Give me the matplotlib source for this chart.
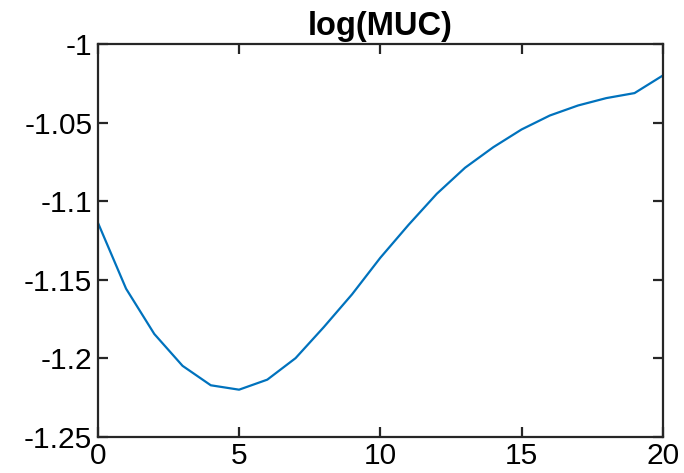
import matplotlib
matplotlib.use('Agg')
import matplotlib.pyplot as plt

plt.rcParams['font.family'] = ['Liberation Sans', 'DejaVu Sans']

x = list(range(21))
muc = [-1.1135, -1.1557, -1.1846, -1.2049, -1.2173, -1.2201, -1.2137, -1.2000,
       -1.1802, -1.1593, -1.1360, -1.1150, -1.0952, -1.0786, -1.0655, -1.0542,
       -1.0453, -1.0389, -1.0342, -1.0310, -1.0198]

fig = plt.figure(figsize=(6.84, 4.73), dpi=100)
ax = fig.add_axes([0.143, 0.077, 0.826, 0.829])

ax.plot(x, muc, color='#0072BD', lw=1.6)

ax.set_xlim(0, 20)
ax.set_ylim(-1.25, -1)
ax.set_xticks([0, 5, 10, 15, 20])
ax.set_yticks([-1.25, -1.2, -1.15, -1.1, -1.05, -1])
ax.set_yticklabels(['-1.25', '-1.2', '-1.15', '-1.1', '-1.05', '-1'])
ax.set_title('log(MUC)', fontsize=23.5, fontweight='bold', pad=7)

for s in ax.spines.values():
    s.set_color('#262626')
    s.set_linewidth(1.6)
ax.tick_params(direction='in', top=True, right=True, length=7, width=1.6,
               color='#262626', labelsize=21.5, pad=4)

fig.savefig('out.png', dpi=100)
